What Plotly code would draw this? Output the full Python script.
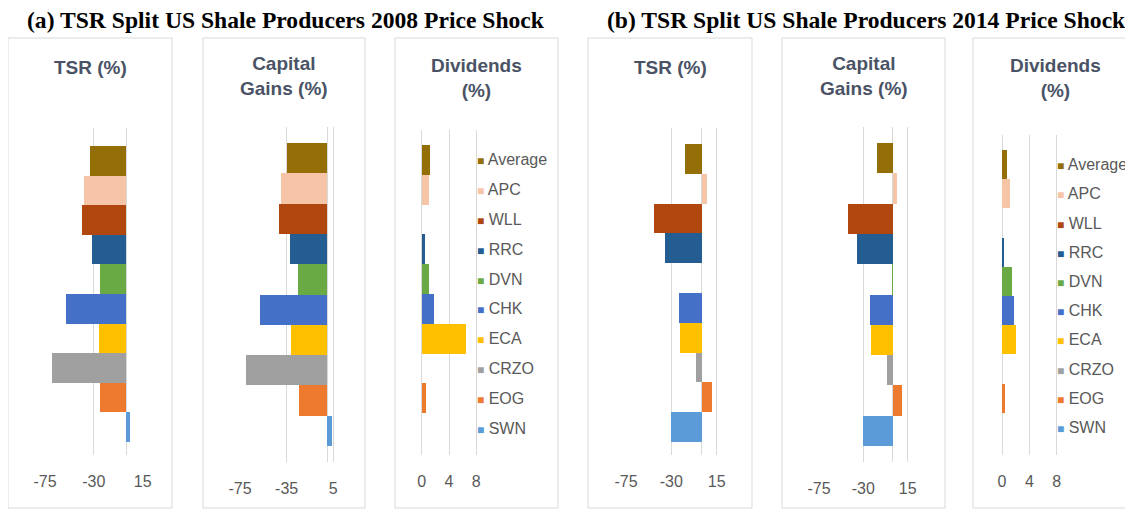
import plotly.graph_objects as go

# ---------------- data ----------------
companies = ["Average", "APC", "WLL", "RRC", "DVN", "CHK", "ECA", "CRZO", "EOG", "SWN"]
colors = ["#946E06", "#F6C5A8", "#B0470F", "#245D92", "#6AAA45",
          "#4570C8", "#FFC000", "#A0A0A0", "#EE7A30", "#5A9BD8"]

tsr_2008 = [-34, -39, -41, -32, -24, -56, -25, -69, -24, 3.7]
cg_2008 = [-35, -40, -41.5, -32.5, -25, -58, -31, -69.5, -24.5, 4]
div_2008 = [1.2, 1.0, 0, 0.4, 1.0, 1.8, 6.5, 0, 0.6, 0]

tsr_2014 = [-16, 5.7, -47, -36, 0, -22, -21, -6, 10.7, -30.3]
cg_2014 = [-16.6, 3.8, -46, -36, -0.5, -23.3, -22.3, -6.3, 9.6, -30.3]
div_2014 = [0.8, 1.2, 0, 0.25, 1.5, 1.8, 2.0, 0, 0.4, 0]

ticks_tsr = [-75, -30, 15]
ticks_cg_2008 = [-75, -35, 5]
ticks_cg_2014 = [-75, -30, 15]
ticks_div = [0, 4, 8]

panel_titles = ["(a) TSR Split US Shale Producers 2008 Price Shock",
                "(b) TSR Split US Shale Producers 2014 Price Shock"]
chart_titles = ["TSR (%)", "Capital<br>Gains (%)", "Dividends<br>(%)"]

# ---------------- layout geometry (page pixels) ----------------
W, H = 1133, 511
OFF = 8  # the page body margin shifts the figure by 8px right and down
charts = [
    dict(values=tsr_2008, ticks=ticks_tsr, px=(45, 142.7), py=(128, 455), bars=(146, 442),
         frame=(8, 172), title=chart_titles[0], ty=67, standoff=15),
    dict(values=cg_2008, ticks=ticks_cg_2008, px=(240, 333.3), py=(127, 462), bars=(143, 446),
         frame=(203, 365), title=chart_titles[1], ty=76.5, standoff=15),
    dict(values=div_2008, ticks=ticks_div, px=(421.7, 476.3), py=(130, 455), bars=(145, 443),
         frame=(395, 558), title=chart_titles[2], ty=77.5, standoff=15, legend_x=476),
    dict(values=tsr_2014, ticks=ticks_tsr, px=(626, 716.7), py=(128, 455), bars=(144, 442),
         frame=(588, 752), title=chart_titles[0], ty=67, standoff=15),
    dict(values=cg_2014, ticks=ticks_cg_2014, px=(819, 907.7), py=(127, 462), bars=(143, 446),
         frame=(782, 945), title=chart_titles[1], ty=76.5, standoff=15),
    dict(values=div_2014, ticks=ticks_div, px=(1002, 1056.7), py=(135, 455), bars=(150, 442),
         frame=(973, 1145), title=chart_titles[2], ty=77.5, standoff=15, legend_x=1056),
]
panel_title_x = [286, 866]
panel_title_y = 20
frame_top, frame_bottom = 38, 508

GRID = "#D9D9D9"
TEXT = "#595959"
TITLE_C = "#4A5366"


def fx(p):
    return (p - OFF) / W


def fy(p):
    return 1 - (p - OFF) / H


fig = go.Figure()
layout = dict(
    width=W, height=H, margin=dict(l=0, r=0, t=0, b=0, pad=0, autoexpand=False),
    paper_bgcolor="white", plot_bgcolor="rgba(0,0,0,0)",
    barmode="overlay", bargap=0, showlegend=False,
    font=dict(family="Liberation Sans, Arial, sans-serif", color=TEXT, size=16),
)
annotations = []
shapes = []

for i, ch in enumerate(charts):
    n = i + 1
    xa = "x" if n == 1 else f"x{n}"
    ya = "y" if n == 1 else f"y{n}"
    xkey = "xaxis" if n == 1 else f"xaxis{n}"
    ykey = "yaxis" if n == 1 else f"yaxis{n}"

    lo, hi = ch["ticks"][0], ch["ticks"][-1]
    p0, p1 = ch["px"]
    upp = (hi - lo) / (p1 - p0)  # data units per pixel
    pad = 1.0
    layout[xkey] = dict(
        domain=[fx(p0 - pad), fx(p1 + pad)], range=[lo - pad * upp, hi + pad * upp],
        anchor=ya, tickmode="array", tickvals=ch["ticks"],
        ticktext=[str(t) for t in ch["ticks"]], automargin=False,
        showgrid=True, gridcolor=GRID, gridwidth=1,
        zeroline=True, zerolinecolor=GRID, zerolinewidth=1,
        showline=False, ticks="", ticklabelstandoff=ch["standoff"],
        tickfont=dict(size=16, color=TEXT), fixedrange=True,
    )
    T, B = ch["py"]
    bt, bb = ch["bars"]
    u = (bb - bt) / len(companies)
    layout[ykey] = dict(
        domain=[fy(B), fy(T)], anchor=xa, type="category", automargin=False,
        categoryorder="array", categoryarray=companies,
        range=[len(companies) - 0.5 + (B - bb) / u, -0.5 - (bt - T) / u],
        showticklabels=False, showgrid=False, zeroline=False, showline=False,
        fixedrange=True,
    )

    for name, val, col in zip(companies, ch["values"], colors):
        fig.add_trace(go.Bar(
            y=[name], x=[val], orientation="h", width=1,
            marker=dict(color=col, line=dict(width=0)),
            name=name, xaxis=xa, yaxis=ya, showlegend=False,
        ))

    # frame around each small chart
    f0, f1 = ch["frame"]
    shapes.append(dict(type="rect", xref="paper", yref="paper",
                       x0=fx(f0), x1=fx(f1), y0=fy(frame_bottom), y1=fy(frame_top),
                       line=dict(color=GRID, width=1), layer="below"))

    # chart title
    annotations.append(dict(
        text=f"<b>{ch['title']}</b>", xref="paper", yref="paper",
        x=fx((f0 + min(f1, 1137)) / 2), y=fy(ch["ty"]), xanchor="center", yanchor="middle",
        showarrow=False, font=dict(size=19, color=TITLE_C,
                                   family="Liberation Sans, Arial, sans-serif"),
    ))

    # legend entries (aligned with the bars of the dividends chart)
    if "legend_x" in ch:
        for name, col in zip(companies, colors):
            annotations.append(dict(
                text=f"<span style='color:{col};font-size:12px'>■</span> {name}",
                xref="paper", yref=ya, x=fx(ch["legend_x"]), y=name,
                xanchor="left", yanchor="middle", showarrow=False,
                font=dict(size=16, color=TEXT), borderpad=0,
            ))

for t, x in zip(panel_titles, panel_title_x):
    annotations.append(dict(
        text=f"<b>{t}</b>", xref="paper", yref="paper", x=fx(x), y=fy(panel_title_y),
        xanchor="center", yanchor="middle", showarrow=False,
        font=dict(size=23.6, color="black", family="Liberation Serif, Times New Roman, serif"),
    ))

layout["annotations"] = annotations
layout["shapes"] = shapes
fig.update_layout(**layout)
fig.write_html("out.html")
